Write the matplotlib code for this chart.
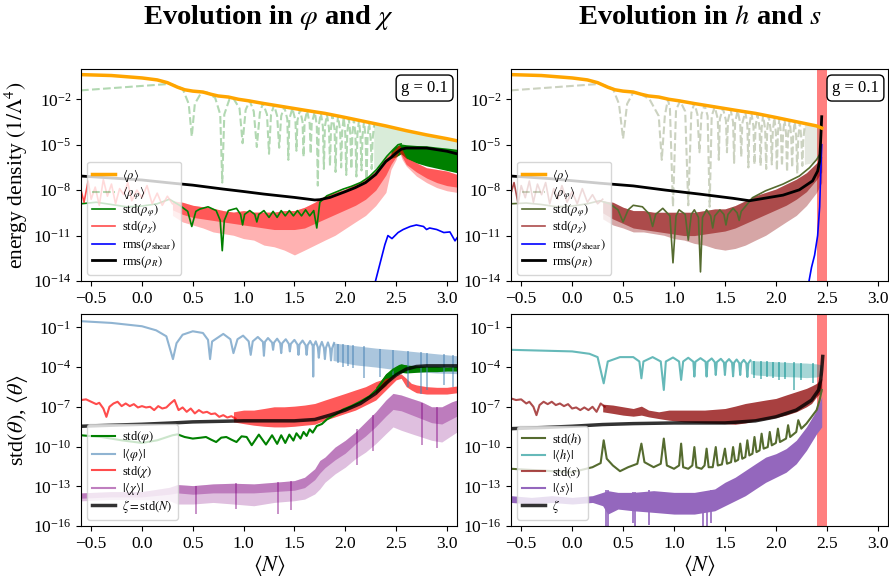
import numpy as np
import matplotlib
matplotlib.use("Agg")
import matplotlib.pyplot as plt
from matplotlib.lines import Line2D

plt.rcParams['font.family'] = 'serif'
plt.rcParams['font.serif'] = ['Liberation Serif', 'DejaVu Serif']
plt.rcParams['mathtext.fontset'] = 'stix'

# all values below are (<N>, log10 of quantity)

# ---------------- top left: energy densities, phi / chi ----------------
rho_tl = [(-0.6, -0.37), (-0.3, -0.43), (0.0, -0.59), (0.15, -0.72), (0.25, -0.9), (0.35, -1.2),
          (0.42, -1.37), (0.5, -1.46), (0.6, -1.52), (0.68, -1.67), (0.75, -1.78), (0.85, -1.85),
          (0.95, -2.0), (1.05, -2.1), (1.2, -2.28), (1.4, -2.5), (1.6, -2.72), (1.8, -2.93),
          (2.0, -3.2), (2.2, -3.48), (2.4, -3.76), (2.6, -4.07), (2.8, -4.35), (3.0, -4.6), (3.1, -4.74)]
rhophi_tl = [(-0.6, -1.41), (0.28, -0.98), (0.40, -1.3), (0.46, -2.3), (0.49, -4.46), (0.52, -2.3),
             (0.58, -1.6), (0.64, -1.55), (0.72, -1.9), (0.77, -3.0), (0.79, -7.5), (0.81, -3.0),
             (0.86, -2.0), (0.90, -1.95), (0.96, -2.6), (0.99, -4.9), (1.02, -2.7), (1.06, -2.1),
             (1.10, -2.8), (1.13, -5.15), (1.16, -2.9), (1.19, -2.25), (1.23, -3.0), (1.25, -5.6),
             (1.27, -3.0), (1.30, -2.38), (1.33, -3.1), (1.35, -5.2), (1.37, -3.1), (1.40, -2.5),
             (1.43, -3.3), (1.44, -6.0), (1.45, -3.3), (1.48, -2.6), (1.51, -3.4), (1.52, -5.4),
             (1.53, -3.4), (1.555, -2.67), (1.58, -3.5), (1.59, -5.8), (1.60, -3.5), (1.625, -2.75),
             (1.65, -3.6), (1.66, -5.6), (1.67, -3.6), (1.70, -2.83), (1.72, -3.7), (1.73, -7.7),
             (1.74, -3.7), (1.76, -2.9), (1.78, -3.8), (1.79, -6.6), (1.80, -3.8), (1.82, -3.0),
             (1.84, -3.9), (1.85, -6.4), (1.86, -3.9), (1.875, -3.05), (1.895, -4.0), (1.905, -6.8),
             (1.915, -4.0), (1.93, -3.1), (1.95, -4.1), (1.96, -6.5), (1.97, -4.1), (1.985, -3.18),
             (2.0, -4.2), (2.01, -7.0), (2.02, -4.2), (2.035, -3.25), (2.05, -4.3), (2.06, -6.6),
             (2.07, -4.3), (2.085, -3.32), (2.10, -4.3), (2.11, -7.1), (2.12, -4.3), (2.135, -3.4),
             (2.15, -4.4), (2.16, -6.7), (2.17, -4.4), (2.185, -3.46), (2.20, -4.5), (2.21, -7.3),
             (2.22, -4.5), (2.235, -3.53), (2.25, -4.6), (2.26, -6.6), (2.27, -4.6), (2.285, -3.6)]
rhophi_band_N = [2.28, 2.4, 2.5, 2.6, 2.7, 2.8, 2.9, 3.0, 3.1]
rhophi_band_hi = [-3.6, -3.76, -3.92, -4.07, -4.21, -4.35, -4.48, -4.6, -4.74]
rhophi_band_lo = [-6.6, -6.2, -5.6, -5.5, -5.4, -5.5, -5.6, -5.7, -5.8]

std_rphi_tl = [(-0.6, -8.9), (-0.45, -8.8), (-0.3, -8.95), (-0.15, -9.1), (0.0, -9.05), (0.15, -8.9),
               (0.27, -8.6), (0.37, -9.0), (0.45, -9.4), (0.49, -10.4), (0.53, -9.4), (0.57, -9.25),
               (0.65, -9.1), (0.73, -9.35), (0.77, -10.0), (0.79, -12.0), (0.81, -10.0), (0.85, -9.35),
               (0.93, -9.2), (0.97, -9.6), (0.99, -10.3), (1.01, -9.6), (1.06, -9.35), (1.11, -9.6),
               (1.13, -10.1), (1.15, -9.6), (1.2, -9.35), (1.25, -9.8), (1.29, -9.4), (1.33, -9.8),
               (1.37, -9.35), (1.41, -9.7), (1.45, -9.35), (1.49, -9.7), (1.53, -9.35), (1.57, -9.7),
               (1.61, -9.3), (1.65, -9.7), (1.69, -9.35), (1.72, -10.5), (1.75, -8.8), (1.82, -8.37),
               (1.9, -8.15), (1.98, -7.93), (2.06, -7.75), (2.15, -7.5), (2.23, -7.15), (2.31, -6.63),
               (2.36, -6.2), (2.41, -5.76), (2.47, -5.33), (2.52, -5.0), (2.55, -4.95)]
std_rphi_band_N = [2.45, 2.5, 2.55, 2.6, 2.7, 2.8, 2.9, 3.0, 3.1]
std_rphi_band_hi = [-5.4, -5.1, -4.95, -5.0, -5.05, -5.07, -5.15, -5.22, -5.3]
std_rphi_band_lo = [-5.9, -5.8, -5.6, -5.9, -6.2, -6.4, -6.55, -6.7, -6.85]

std_rchi_tl = [(-0.6, -8.0), (-0.57, -8.8), (-0.53, -7.4), (-0.5, -8.6), (-0.46, -7.8), (-0.42, -9.0),
               (-0.38, -7.3), (-0.34, -8.4), (-0.3, -7.6), (-0.26, -8.9), (-0.22, -7.9), (-0.18, -8.3),
               (-0.14, -7.5), (-0.1, -8.7), (-0.05, -8.0), (0.0, -8.5), (0.05, -7.7), (0.1, -8.9),
               (0.15, -8.2), (0.2, -9.0), (0.25, -8.4), (0.3, -8.9)]
std_rchi_band_N = [0.3, 0.4, 0.5, 0.6, 0.7, 0.8, 0.9, 1.0, 1.1, 1.2, 1.3, 1.4, 1.5, 1.6, 1.7, 1.8,
                   1.9, 2.0, 2.1, 2.2, 2.3, 2.4, 2.45, 2.5, 2.53, 2.56, 2.6, 2.7, 2.8, 2.9, 3.0, 3.1]
std_rchi_band_hi = [-8.7, -8.8, -9.0, -9.1, -9.2, -9.35, -9.45, -9.35, -9.45, -9.45, -9.45, -9.35, -9.35,
                    -9.13, -8.8, -8.37, -8.15, -7.93, -7.6, -7.28, -6.74, -5.87, -5.54, -5.22, -5.0,
                    -5.33, -5.87, -6.2, -6.52, -6.63, -6.74, -6.96]
std_rchi_band_mid = [-9.3, -9.6, -9.8, -9.9, -10.0, -10.1, -10.2, -10.3, -10.4, -10.5, -10.6, -10.6, -10.6,
                     -10.5, -10.2, -9.9, -9.6, -9.3, -9.0, -8.6, -8.0, -7.0, -6.3, -5.8, -5.4, -5.8,
                     -6.3, -6.8, -7.2, -7.5, -7.7, -7.8]
std_rchi_band_lo = [-9.67, -10.1, -10.3, -10.5, -10.76, -10.87, -10.98, -11.2, -11.3, -11.63, -11.74,
                    -11.96, -12.28, -11.96, -11.63, -11.3, -10.98, -10.54, -10.1, -9.67, -9.02, -8.15,
                    -6.63, -5.98, -5.43, -5.98, -6.41, -7.07, -7.5, -7.83, -8.04, -8.15]

shear_tl = [(2.29, -14.2), (2.34, -12.9), (2.39, -11.6), (2.42, -11.0), (2.46, -11.2), (2.49, -11.0),
            (2.52, -10.8), (2.57, -10.6), (2.64, -10.4), (2.7, -10.3), (2.77, -10.4), (2.8, -10.6),
            (2.83, -10.5), (2.9, -10.6), (2.97, -10.8), (3.03, -10.76), (3.08, -11.35), (3.1, -11.15)]
rhoR_tl = [(-0.6, -7.07), (-0.3, -7.2), (0.0, -7.33), (0.3, -7.54), (0.5, -7.67), (0.8, -7.93),
           (1.0, -8.09), (1.2, -8.26), (1.5, -8.48), (1.7, -8.65), (1.75, -8.63), (1.85, -8.48),
           (2.0, -8.1), (2.1, -7.83), (2.2, -7.5), (2.3, -6.96), (2.4, -6.1), (2.45, -5.85),
           (2.5, -5.55), (2.55, -5.3), (2.6, -5.22), (2.8, -5.22), (3.0, -5.43), (3.1, -5.6)]

# ---------------- top right: energy densities, h / s ----------------
rho_tr = rho_tl[:21] + [(2.45, -3.9)]
rhophi_tr = [(-0.6, -1.41), (0.28, -0.98), (0.40, -1.3), (0.46, -2.3), (0.5, -4.6), (0.54, -2.3),
             (0.6, -1.55), (0.66, -1.6), (0.76, -2.0), (0.85, -3.1), (0.88, -6.0), (0.91, -3.1),
             (0.94, -2.0), (0.96, -2.6), (0.99, -9.1), (1.02, -2.7), (1.06, -2.1), (1.11, -2.8),
             (1.14, -9.0), (1.17, -2.9), (1.2, -2.25), (1.23, -3.0), (1.25, -5.5), (1.27, -3.0),
             (1.30, -2.38), (1.33, -3.1), (1.35, -9.1), (1.37, -3.1), (1.40, -2.5), (1.43, -3.3),
             (1.44, -6.0), (1.45, -3.3), (1.48, -2.6), (1.51, -3.4), (1.52, -5.5), (1.53, -3.4),
             (1.555, -2.67), (1.58, -3.5), (1.59, -6.2), (1.60, -3.5), (1.625, -2.75), (1.65, -3.6),
             (1.66, -5.8), (1.67, -3.6), (1.70, -2.83), (1.72, -3.7), (1.73, -6.5), (1.74, -3.7),
             (1.76, -2.9), (1.78, -3.8), (1.79, -6.3), (1.80, -3.8), (1.82, -3.0), (1.84, -3.9),
             (1.85, -6.4), (1.86, -3.9), (1.875, -3.05), (1.895, -4.0), (1.905, -6.6), (1.915, -4.0),
             (1.93, -3.1), (1.95, -4.1), (1.96, -6.3), (1.97, -4.1), (1.985, -3.18), (2.0, -4.2),
             (2.01, -6.7), (2.02, -4.2), (2.035, -3.25), (2.05, -4.3), (2.06, -6.4), (2.07, -4.3),
             (2.085, -3.32), (2.10, -4.3), (2.11, -6.8), (2.12, -4.3), (2.135, -3.4), (2.15, -4.4),
             (2.16, -6.5), (2.17, -4.4), (2.185, -3.46), (2.20, -4.5), (2.21, -6.9), (2.22, -4.5),
             (2.235, -3.53), (2.25, -4.6), (2.26, -6.4), (2.27, -4.6), (2.285, -3.6)]
rhophi_band_tr_N = [2.28, 2.35, 2.4, 2.45]
rhophi_band_tr_hi = [-3.6, -3.68, -3.76, -3.88]
rhophi_band_tr_lo = [-6.3, -6.2, -6.0, -5.8]

std_rphi_tr = [(-0.6, -8.9), (-0.45, -8.85), (-0.3, -8.95), (-0.15, -9.1), (0.0, -9.05), (0.15, -8.9),
               (0.27, -8.7), (0.37, -8.9), (0.45, -9.3), (0.5, -10.1), (0.55, -9.3), (0.6, -9.0),
               (0.69, -9.1), (0.76, -9.6), (0.79, -10.4), (0.82, -9.6), (0.89, -9.2), (0.96, -9.7),
               (0.99, -12.8), (1.02, -9.7), (1.05, -9.3), (1.11, -9.6), (1.14, -11.3), (1.17, -9.6),
               (1.2, -9.3), (1.24, -9.8), (1.26, -13.4), (1.28, -9.8), (1.32, -9.3), (1.36, -9.7),
               (1.38, -10.5), (1.40, -9.7), (1.45, -9.3), (1.49, -9.6), (1.51, -10.3), (1.53, -9.6),
               (1.58, -9.2), (1.62, -9.5), (1.64, -10.0), (1.66, -9.4), (1.71, -9.0), (1.77, -8.5),
               (1.9, -8.04), (2.07, -7.6), (2.23, -7.07), (2.33, -6.52), (2.4, -5.98), (2.43, -5.65)]
std_rchi_tr = [(-0.6, -8.2), (-0.57, -7.5), (-0.53, -8.9), (-0.5, -7.7), (-0.46, -8.5), (-0.42, -7.4),
               (-0.38, -8.8), (-0.34, -7.6), (-0.3, -8.3), (-0.26, -7.5), (-0.22, -8.9), (-0.18, -7.9),
               (-0.14, -8.6), (-0.1, -7.7), (-0.05, -8.8), (0.0, -8.1), (0.05, -8.9), (0.1, -7.9),
               (0.15, -8.8), (0.2, -8.3), (0.25, -8.9), (0.3, -8.6)]
std_rchi_band_tr_N = [0.3, 0.4, 0.5, 0.6, 0.7, 0.8, 0.9, 1.0, 1.1, 1.2, 1.3, 1.4, 1.5, 1.6, 1.7, 1.8,
                      1.9, 2.0, 2.1, 2.2, 2.3, 2.4, 2.45]
std_rchi_band_tr_hi = [-8.7, -8.8, -9.13, -9.35, -9.35, -9.46, -9.46, -9.46, -9.46, -9.46, -9.35, -9.24,
                       -9.24, -9.02, -8.7, -8.37, -8.15, -7.93, -7.6, -7.28, -6.85, -6.2, -5.76]
std_rchi_band_tr_mid = [-9.5, -9.9, -10.2, -10.5, -10.6, -10.7, -10.8, -10.9, -11.0, -11.0, -10.9, -10.8,
                        -10.7, -10.5, -10.2, -9.9, -9.6, -9.3, -9.0, -8.6, -8.1, -7.3, -6.8]
std_rchi_band_tr_lo = [-9.9, -10.3, -10.5, -10.76, -10.76, -10.87, -10.98, -11.2, -11.3, -11.52, -11.63,
                       -11.85, -11.96, -11.85, -11.63, -11.3, -10.98, -10.54, -10.1, -9.67, -9.02, -8.15,
                       -7.5]
shear_tr = [(2.32, -14.2), (2.35, -13.1), (2.38, -12.3), (2.41, -11.0), (2.43, -9.1), (2.44, -6.9), (2.45, -5.0)]
rhoR_tr = [(-0.6, -7.07), (-0.22, -7.24), (0.27, -7.54), (0.6, -7.72), (0.92, -8.0), (1.25, -8.26),
           (1.58, -8.54), (1.74, -8.7), (1.84, -8.59), (2.07, -8.33), (2.23, -7.98), (2.36, -7.39),
           (2.41, -6.74), (2.43, -6.09), (2.44, -4.67), (2.45, -3.15)]

# ---------------- bottom left: fields phi / chi ----------------
mphi_bl = [(-0.6, -0.54), (-0.3, -0.67), (0.0, -0.92), (0.14, -1.23), (0.24, -1.68), (0.305, -3.4),
           (0.34, -2.2), (0.4, -1.56), (0.5, -1.3), (0.6, -1.43), (0.65, -1.95), (0.67, -3.4),
           (0.69, -2.07), (0.8, -1.5), (0.87, -1.9), (0.9, -2.95), (0.94, -1.9), (0.995, -1.63),
           (1.05, -2.06), (1.07, -3.08), (1.09, -2.06), (1.14, -1.73), (1.19, -2.1), (1.2, -3.15),
           (1.21, -2.1), (1.24, -1.81), (1.28, -2.15), (1.29, -2.7), (1.30, -2.15), (1.33, -1.86),
           (1.36, -2.2), (1.37, -2.95), (1.38, -2.2), (1.415, -1.9), (1.445, -2.25), (1.455, -2.82),
           (1.465, -2.25), (1.50, -1.95), (1.53, -2.3), (1.54, -3.08), (1.55, -2.3), (1.58, -2.0),
           (1.61, -2.35), (1.62, -3.08), (1.63, -2.35), (1.655, -2.03), (1.68, -2.4), (1.685, -4.72),
           (1.69, -2.4), (1.71, -2.06), (1.73, -2.5), (1.74, -3.3), (1.75, -2.5), (1.77, -2.1),
           (1.79, -2.55), (1.80, -3.4), (1.81, -2.55), (1.83, -2.14), (1.85, -2.6), (1.86, -3.5),
           (1.87, -2.6), (1.89, -2.18)]
mphi_band_N = [1.88, 2.0, 2.1, 2.3, 2.5, 2.7, 2.9, 3.1]
mphi_band_hi = [-2.18, -2.29, -2.39, -2.57, -2.7, -2.85, -3.0, -3.15]
mphi_band_lo = [-3.5, -3.7, -3.84, -4.0, -4.2, -4.35, -4.45, -4.5]
mphi_spike_N = [1.93, 1.98, 2.03, 2.08, 2.18, 2.34, 2.47, 2.62, 2.75, 2.8, 2.97, 3.06]
mphi_spike_hi = [-2.25, -2.28, -2.32, -2.36, -2.42, -2.63, -2.7, -2.8, -2.87, -2.92, -3.05, -3.12]
mphi_spike_lo = [-3.7, -4.0, -3.9, -4.1, -4.85, -4.72, -4.6, -5.5, -6.0, -5.7, -5.35, -5.5]

sphi_bl = [(-0.6, -9.15), (-0.4, -9.28), (-0.2, -9.53), (0.0, -9.73), (0.15, -9.53), (0.3, -9.15),
           (0.35, -9.08), (0.42, -9.28), (0.5, -9.4), (0.58, -9.33), (0.63, -9.28), (0.68, -9.48),
           (0.73, -9.66), (0.78, -9.33), (0.83, -9.28), (0.88, -9.48), (0.93, -9.66), (0.98, -9.23),
           (1.03, -9.28), (1.08, -9.9), (1.15, -9.1), (1.22, -9.85), (1.28, -9.15), (1.33, -9.8),
           (1.37, -9.15), (1.41, -9.73), (1.45, -9.1), (1.49, -9.55), (1.52, -9.0), (1.56, -9.4),
           (1.59, -8.9), (1.62, -9.2), (1.65, -8.7), (1.68, -8.95), (1.72, -8.45), (1.77, -8.3),
           (1.82, -7.95), (1.9, -7.6), (1.98, -7.2), (2.06, -6.95), (2.15, -6.6), (2.24, -6.2),
           (2.31, -5.7), (2.36, -5.15), (2.41, -4.6), (2.47, -4.2), (2.54, -3.9), (2.6, -3.95)]
sphi_band_N = [2.3, 2.4, 2.45, 2.5, 2.55, 2.6, 2.7, 2.8, 2.9, 3.0, 3.1]
sphi_band_hi = [-5.5, -4.5, -4.3, -3.95, -3.75, -3.85, -3.9, -3.95, -3.95, -4.0, -3.95]
sphi_band_lo = [-6.0, -5.4, -4.9, -4.6, -4.4, -4.45, -4.4, -4.35, -4.35, -4.3, -4.3]

schi_bl = [(-0.6, -6.49), (-0.55, -6.44), (-0.5, -6.62), (-0.45, -6.8), (-0.42, -6.7), (-0.38, -7.13),
           (-0.35, -7.76), (-0.32, -7.0), (-0.28, -6.75), (-0.24, -6.62), (-0.2, -6.95), (-0.16, -6.75),
           (-0.12, -6.95), (-0.08, -6.8), (-0.04, -7.05), (0.0, -6.95), (0.04, -7.05), (0.08, -7.0),
           (0.12, -7.25), (0.16, -6.95), (0.2, -7.13), (0.24, -7.05), (0.28, -6.75), (0.32, -6.49),
           (0.36, -7.25), (0.4, -7.05), (0.44, -7.38), (0.48, -7.13), (0.52, -7.5), (0.56, -7.25),
           (0.6, -7.45), (0.64, -7.38), (0.68, -7.55), (0.72, -7.5), (0.76, -7.76), (0.8, -7.63),
           (0.84, -7.81), (0.88, -7.71), (0.92, -7.89)]
schi_band_N = [0.9, 1.0, 1.1, 1.2, 1.3, 1.4, 1.5, 1.6, 1.7, 1.8, 1.9, 2.0, 2.1, 2.2, 2.3, 2.4, 2.45,
               2.5, 2.55, 2.6, 2.65, 2.7, 2.8, 2.9, 3.0, 3.1]
schi_band_hi = [-7.38, -7.25, -7.25, -7.13, -7.0, -7.0, -6.95, -6.87, -6.75, -6.49, -6.24, -5.99, -5.73,
                -5.48, -5.1, -4.85, -4.78, -4.6, -4.52, -4.85, -5.23, -5.35, -5.48, -5.53, -5.53, -5.43]
schi_band_lo = [-8.14, -8.27, -8.39, -8.47, -8.52, -8.52, -8.47, -8.39, -8.32, -8.01, -7.76, -7.5, -7.25,
                -6.87, -6.49, -5.73, -5.35, -4.97, -4.85, -5.48, -5.73, -5.94, -6.04, -6.04, -6.04, -5.94]

mchi_band_N = [-0.6, -0.3, 0.0, 0.27, 0.35, 0.5, 0.7, 0.9, 1.1, 1.3, 1.5, 1.6, 1.7, 1.75, 1.8, 1.9,
               2.0, 2.1, 2.2, 2.3, 2.4, 2.47, 2.55, 2.65, 2.75, 2.85, 2.95, 3.05, 3.1]
mchi_band_hi = [-13.5, -13.4, -13.4, -13.08, -12.87, -12.95, -12.82, -12.77, -12.82, -12.7, -12.57, -12.32,
                -11.68, -11.05, -10.8, -10.04, -9.53, -8.9, -8.14, -7.38, -6.49, -5.99, -6.11, -6.37,
                -6.62, -7.0, -7.0, -6.62, -6.49]
mchi_band_mid = [-13.9, -13.8, -13.8, -13.6, -13.5, -13.6, -13.5, -13.5, -13.5, -13.4, -13.3, -13.1,
                 -12.5, -12.0, -11.6, -11.0, -10.5, -9.8, -9.2, -8.5, -7.7, -7.2, -7.3, -7.6, -7.9,
                 -8.2, -8.3, -7.9, -7.7]
mchi_band_lo = [-14.1, -14.0, -14.0, -14.09, -14.34, -14.34, -14.22, -14.34, -14.47, -14.22, -14.09,
                -13.97, -13.58, -13.2, -12.7, -12.06, -11.56, -10.92, -10.42, -9.78, -9.03, -8.52, -8.77,
                -9.03, -9.28, -9.53, -9.66, -9.15, -8.9]
mchi_spike_N = [0.53, 0.93, 1.34, 1.47, 2.12, 2.27, 2.76, 2.9]
mchi_spike_hi = [-12.95, -12.77, -12.7, -12.6, -8.7, -7.6, -6.7, -7.0]
mchi_spike_lo = [-15.1, -14.7, -15.1, -14.8, -11.4, -10.3, -9.9, -10.1]

zeta_bl = [(-0.6, -8.47), (-0.3, -8.39), (0.0, -8.32), (0.3, -8.22), (0.5, -8.14), (1.0, -8.06),
           (1.5, -8.06), (1.7, -7.96), (1.85, -7.63), (2.0, -7.25), (2.15, -6.75), (2.3, -5.99),
           (2.4, -5.23), (2.5, -4.6), (2.6, -4.16), (2.7, -3.96), (2.8, -3.91), (3.1, -3.91)]

# ---------------- bottom right: fields h / s ----------------
mh_br = [(-0.6, -2.7), (0.0, -2.82), (0.17, -3.0), (0.25, -3.25), (0.31, -5.23), (0.35, -3.58),
         (0.47, -3.25), (0.6, -3.25), (0.66, -3.58), (0.68, -4.85), (0.70, -3.58), (0.79, -3.25),
         (0.87, -3.58), (0.9, -5.73), (0.92, -3.58), (0.99, -3.28), (1.05, -3.58), (1.07, -4.97),
         (1.09, -3.58), (1.14, -3.3), (1.19, -3.6), (1.2, -4.72), (1.21, -3.6), (1.26, -3.33),
         (1.31, -3.6), (1.32, -4.72), (1.33, -3.6), (1.37, -3.35), (1.40, -3.63), (1.41, -4.6),
         (1.42, -3.63), (1.46, -3.38), (1.49, -3.65), (1.50, -4.6), (1.51, -3.65), (1.54, -3.4),
         (1.57, -3.67), (1.58, -4.7), (1.59, -3.67), (1.615, -3.43), (1.64, -3.7), (1.65, -4.6),
         (1.66, -3.7), (1.685, -3.46), (1.71, -3.72), (1.72, -4.75), (1.73, -3.72), (1.75, -3.5)]
mh_band_N = [1.75, 1.8, 2.0, 2.2, 2.3, 2.4, 2.45]
mh_band_hi = [-3.5, -3.53, -3.6, -3.68, -3.7, -3.76, -3.84]
mh_band_lo = [-4.5, -4.6, -4.7, -4.75, -4.8, -4.75, -4.6]
mh_spike_N = [1.79, 1.85, 1.91, 1.97, 2.03, 2.09, 2.18, 2.25, 2.36]
mh_spike_hi = [-3.52, -3.55, -3.57, -3.6, -3.62, -3.64, -3.65, -3.68, -3.72]
mh_spike_lo = [-4.8, -4.9, -4.75, -4.85, -5.0, -4.9, -5.73, -4.95, -5.23]

sh_br = [(-0.6, -11.68), (-0.3, -11.81), (0.0, -11.94), (0.2, -11.56), (0.28, -11.25), (0.31, -9.53),
         (0.34, -10.92), (0.4, -11.43), (0.47, -11.86), (0.55, -11.56), (0.64, -11.3), (0.68, -9.78),
         (0.71, -11.18), (0.8, -11.56), (0.87, -11.3), (0.9, -9.4), (0.93, -11.43), (1.0, -11.68),
         (1.05, -11.43), (1.07, -9.78), (1.09, -11.56), (1.14, -11.68), (1.18, -11.43), (1.2, -10.04),
         (1.22, -11.56), (1.27, -11.68), (1.3, -11.43), (1.32, -10.16), (1.34, -11.56), (1.38, -11.56),
         (1.41, -10.04), (1.43, -11.43), (1.47, -11.35), (1.5, -10.16), (1.52, -11.3), (1.56, -11.18),
         (1.58, -10.04), (1.60, -11.13), (1.63, -11.0), (1.65, -9.78), (1.67, -10.92), (1.70, -10.8),
         (1.72, -9.53), (1.74, -10.67), (1.77, -10.54), (1.79, -9.28), (1.81, -10.42), (1.84, -10.29),
         (1.86, -9.03), (1.88, -10.16), (1.92, -10.04), (1.94, -8.9), (1.96, -9.91), (2.0, -9.73),
         (2.02, -8.65), (2.04, -9.66), (2.1, -9.4), (2.12, -8.39), (2.14, -9.28), (2.2, -8.9),
         (2.22, -8.01), (2.25, -8.65), (2.3, -8.27), (2.35, -7.76), (2.4, -7.25), (2.43, -6.49),
         (2.45, -5.73)]

ss_br = [(-0.6, -6.37), (-0.55, -6.49), (-0.5, -6.44), (-0.45, -6.75), (-0.42, -6.62), (-0.38, -7.0),
         (-0.35, -7.63), (-0.32, -6.87), (-0.28, -6.62), (-0.24, -6.8), (-0.2, -6.62), (-0.16, -6.87),
         (-0.12, -6.75), (-0.08, -6.95), (-0.04, -6.8), (0.0, -7.13), (0.04, -7.05), (0.08, -7.25),
         (0.12, -7.05), (0.16, -7.25), (0.2, -7.0), (0.24, -7.38), (0.28, -6.75), (0.32, -7.0)]
ss_band_N = [0.3, 0.4, 0.5, 0.6, 0.68, 0.75, 0.85, 0.95, 1.1, 1.3, 1.5, 1.6, 1.7, 1.8, 1.9, 2.0, 2.1,
             2.2, 2.3, 2.35, 2.4, 2.45]
ss_band_hi = [-6.8, -6.87, -7.0, -7.13, -6.95, -7.25, -7.38, -7.25, -7.25, -7.25, -7.13, -6.95, -6.75,
              -6.62, -6.49, -6.37, -6.11, -5.86, -5.61, -5.43, -5.23, -4.85]
ss_band_lo = [-7.38, -7.5, -7.63, -7.71, -7.63, -7.76, -7.89, -8.01, -8.14, -8.22, -8.27, -8.32, -8.22,
              -8.06, -7.96, -7.81, -7.63, -7.38, -7.0, -6.75, -6.24, -5.86]

ms_band_N = [-0.6, -0.4, -0.2, 0.0, 0.2, 0.3, 0.35, 0.45, 0.6, 0.8, 1.0, 1.2, 1.4, 1.5, 1.6, 1.7, 1.8,
             1.9, 2.0, 2.1, 2.2, 2.3, 2.4, 2.45]
ms_band_hi = [-13.71, -13.84, -13.71, -13.84, -13.71, -13.46, -13.33, -13.46, -13.46, -13.33, -13.46,
              -13.46, -13.2, -12.7, -12.32, -11.81, -11.3, -10.8, -10.54, -10.16, -9.53, -8.52, -7.25,
              -6.24]
ms_band_lo = [-14.22, -14.34, -14.22, -14.34, -14.22, -14.47, -15.1, -14.72, -14.85, -14.97, -15.1,
              -15.1, -14.85, -14.47, -14.09, -13.71, -13.2, -12.7, -12.32, -11.94, -11.3, -10.29, -9.03,
              -8.52]
ms_spike_N = [0.33, 0.35, 0.6, 0.62, 0.75, 1.28, 1.32, 1.36]
ms_spike_hi = [-13.3, -13.3, -13.4, -13.4, -13.3, -13.4, -13.4, -13.3]
ms_spike_lo = [-16.0, -16.0, -15.8, -16.0, -15.9, -16.0, -16.0, -15.8]

zeta_br = [(-0.6, -8.65), (-0.3, -8.57), (0.0, -8.47), (0.3, -8.34), (0.6, -8.27), (1.0, -8.22),
           (1.5, -8.22), (1.8, -8.06), (2.0, -7.76), (2.2, -7.25), (2.35, -6.5), (2.42, -5.73),
           (2.44, -4.97), (2.45, -4.2), (2.46, -3.2)]

blowup = (2.4, 2.5)


def xy(pairs):
    a = np.array(pairs, dtype=float)
    return a[:, 0], 10.0 ** a[:, 1]


def p(v):
    return 10.0 ** np.asarray(v, dtype=float)


fig = plt.figure(figsize=(8.89, 5.79), dpi=100)
ax_tl = fig.add_axes([0.0911, 0.5147, 0.423, 0.3661])
ax_tr = fig.add_axes([0.5748, 0.5147, 0.424, 0.3661])
ax_bl = fig.add_axes([0.0911, 0.0915, 0.423, 0.3661])
ax_br = fig.add_axes([0.5748, 0.0915, 0.424, 0.3661])

LW = 1.2

# top left
ax = ax_tl
ax.plot(*xy(rhophi_tl), '--', color='green', alpha=0.3, lw=1.5)
ax.fill_between(rhophi_band_N, p(rhophi_band_lo), p(rhophi_band_hi), color='green', alpha=0.15, lw=0)
ax.fill_between(std_rphi_band_N, p(std_rphi_band_lo), p(std_rphi_band_hi), color='green', lw=0)
ax.plot(*xy(std_rphi_tl), color='green', lw=LW)
ax.plot(*xy(std_rchi_tl), color='red', alpha=0.7, lw=LW)
ax.fill_between(std_rchi_band_N, p(std_rchi_band_lo), p(std_rchi_band_hi), color='red', alpha=0.3, lw=0)
ax.fill_between(std_rchi_band_N, p(std_rchi_band_mid), p(std_rchi_band_hi), color='red', alpha=0.5, lw=0)
ax.plot(*xy(shear_tl), color='blue', lw=LW)
ax.plot(*xy(rhoR_tl), color='black', lw=2)
ax.plot(*xy(rho_tl), color='orange', lw=2.5)

# top right
ax = ax_tr
ax.axvspan(*blowup, color='red', alpha=0.5, lw=0)
ax.plot(*xy(rhophi_tr), '--', color='darkolivegreen', alpha=0.3, lw=1.5)
ax.fill_between(rhophi_band_tr_N, p(rhophi_band_tr_lo), p(rhophi_band_tr_hi), color='darkolivegreen', alpha=0.15, lw=0)
ax.plot(*xy(std_rphi_tr), color='darkolivegreen', lw=LW)
ax.plot(*xy(std_rchi_tr), color='darkred', alpha=0.7, lw=LW)
ax.fill_between(std_rchi_band_tr_N, p(std_rchi_band_tr_lo), p(std_rchi_band_tr_hi), color='darkred', alpha=0.35, lw=0)
ax.fill_between(std_rchi_band_tr_N, p(std_rchi_band_tr_mid), p(std_rchi_band_tr_hi), color='darkred', alpha=0.55, lw=0)
ax.plot(*xy(shear_tr), color='blue', lw=LW)
ax.plot(*xy(rhoR_tr), color='black', lw=2)
ax.plot(*xy(rho_tr), color='orange', lw=2.5)

# bottom left
ax = ax_bl
ax.plot(*xy(mphi_bl), color='steelblue', alpha=0.6, lw=1.5)
ax.fill_between(mphi_band_N, p(mphi_band_lo), p(mphi_band_hi), color='steelblue', alpha=0.45, lw=0)
ax.vlines(mphi_spike_N, p(mphi_spike_lo), p(mphi_spike_hi), color='steelblue', alpha=0.6, lw=1.2)
ax.plot(*xy(sphi_bl), color='green', lw=1.5)
ax.fill_between(sphi_band_N, p(sphi_band_lo), p(sphi_band_hi), color='green', lw=0)
ax.plot(*xy(schi_bl), color='red', alpha=0.7, lw=1.5)
ax.fill_between(schi_band_N, p(schi_band_lo), p(schi_band_hi), color='red', alpha=0.65, lw=0)
ax.fill_between(mchi_band_N, p(mchi_band_lo), p(mchi_band_hi), color='purple', alpha=0.25, lw=0)
ax.fill_between(mchi_band_N, p(mchi_band_mid), p(mchi_band_hi), color='purple', alpha=0.35, lw=0)
ax.vlines(mchi_spike_N, p(mchi_spike_lo), p(mchi_spike_hi), color='purple', alpha=0.5, lw=1.2)
ax.plot(*xy(zeta_bl), color='black', alpha=0.8, lw=2.5)

# bottom right
ax = ax_br
ax.axvspan(*blowup, color='red', alpha=0.5, lw=0)
ax.plot(*xy(mh_br), color='darkcyan', alpha=0.6, lw=1.5)
ax.fill_between(mh_band_N, p(mh_band_lo), p(mh_band_hi), color='darkcyan', alpha=0.35, lw=0)
ax.vlines(mh_spike_N, p(mh_spike_lo), p(mh_spike_hi), color='darkcyan', alpha=0.6, lw=1.2)
ax.plot(*xy(sh_br), color='darkolivegreen', lw=1.5)
ax.plot(*xy(ss_br), color='darkred', alpha=0.7, lw=1.5)
ax.fill_between(ss_band_N, p(ss_band_lo), p(ss_band_hi), color='darkred', alpha=0.75, lw=0)
ax.fill_between(ms_band_N, p(ms_band_lo), p(ms_band_hi), color='tab:purple', lw=0)
ax.vlines(ms_spike_N, p(ms_spike_lo), p(ms_spike_hi), color='tab:purple', lw=1.2)
ax.plot(*xy(zeta_br), color='black', alpha=0.8, lw=2.5)

# axes cosmetics
for ax in (ax_tl, ax_tr, ax_bl, ax_br):
    ax.set_yscale('log')
    ax.set_xlim(-0.6, 3.1)
    ax.set_xticks([-0.5, 0.0, 0.5, 1.0, 1.5, 2.0, 2.5, 3.0])
    ax.tick_params(labelsize=12.5)

for ax in (ax_tl, ax_tr):
    ax.set_ylim(1e-14, 1e0)
    ax.set_yticks([1e-2, 1e-5, 1e-8, 1e-11, 1e-14])
    ax.text(0.976, 0.948, 'g = 0.1', transform=ax.transAxes, ha='right', va='top', fontsize=12,
            bbox=dict(boxstyle='round,pad=0.3', fc='white', ec='black'))
for ax in (ax_bl, ax_br):
    ax.set_ylim(1e-16, 1e0)
    ax.set_yticks([1e-1, 1e-4, 1e-7, 1e-10, 1e-13, 1e-16])
    ax.set_xlabel(r'$\langle N \rangle$', fontsize=16, labelpad=1)
for ax in (ax_tl, ax_tr, ax_bl, ax_br):
    ax.yaxis.set_minor_locator(matplotlib.ticker.NullLocator())

ax_tl.set_ylabel(r'energy density $(1/\Lambda^4)$', fontsize=15.5, labelpad=2)
ax_bl.set_ylabel(r'std$(\theta)$, $\langle\theta\rangle$', fontsize=16, labelpad=2)

top_labels = [r'$\langle\rho\rangle$', r'$\langle\rho_\varphi\rangle$', r'std$(\rho_\varphi)$',
              r'std$(\rho_\chi)$', r'rms$(\rho_{\rm shear})$', r'rms$(\rho_R)$']


def top_handles(phi_col, chi_col):
    return [Line2D([], [], color='orange', lw=2.5),
            Line2D([], [], color=phi_col, alpha=0.3, lw=1.5, ls='--'),
            Line2D([], [], color=phi_col, lw=LW),
            Line2D([], [], color=chi_col, alpha=0.7, lw=LW),
            Line2D([], [], color='blue', lw=LW),
            Line2D([], [], color='black', lw=2)]


leg_kw = dict(loc='lower left', fontsize=9, labelspacing=0.05, borderpad=0.4, handletextpad=0.6,
              handlelength=1.8)
ax_tl.legend(top_handles('green', 'red'), top_labels, **leg_kw)
ax_tr.legend(top_handles('darkolivegreen', 'darkred'), top_labels, **leg_kw)

ax_bl.legend([Line2D([], [], color='green', lw=1.5),
              Line2D([], [], color='steelblue', alpha=0.6, lw=1.5),
              Line2D([], [], color='red', alpha=0.7, lw=1.5),
              Line2D([], [], color='purple', alpha=0.5, lw=1.5),
              Line2D([], [], color='black', alpha=0.8, lw=2.5)],
             [r'std$(\varphi)$', r'$|\langle\varphi\rangle|$', r'std$(\chi)$', r'$|\langle\chi\rangle|$',
              r'$\zeta = $std$(N)$'], **leg_kw)
ax_br.legend([Line2D([], [], color='darkolivegreen', lw=1.5),
              Line2D([], [], color='darkcyan', alpha=0.6, lw=1.5),
              Line2D([], [], color='darkred', alpha=0.7, lw=1.5),
              Line2D([], [], color='tab:purple', lw=1.5),
              Line2D([], [], color='black', alpha=0.8, lw=2.5)],
             [r'std$(h)$', r'$|\langle h\rangle|$', r'std$(s)$', r'$|\langle s\rangle|$', r'$\zeta$'],
             **leg_kw)

fig.text(0.302, 0.969, r'Evolution in $\varphi$ and $\chi$', ha='center', va='center',
         fontsize=20.5, fontweight='bold')
fig.text(0.787, 0.969, r'Evolution in $h$ and $s$', ha='center', va='center',
         fontsize=20.5, fontweight='bold')

fig.savefig('out.png', dpi=100)
